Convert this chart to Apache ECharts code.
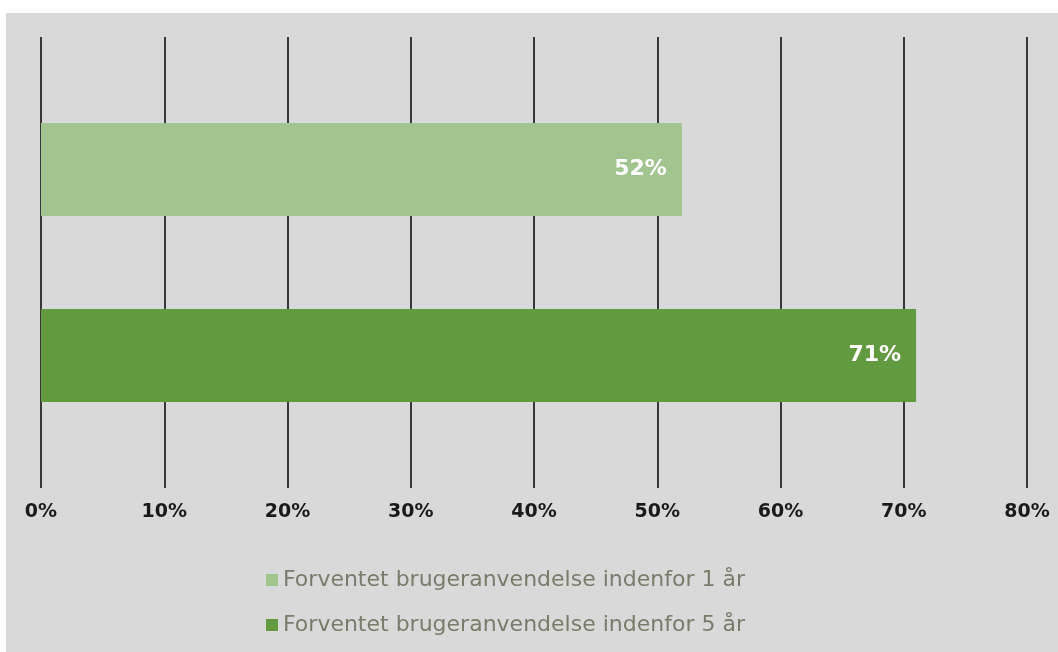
<!DOCTYPE html>
<html>
<head>
<meta charset="utf-8">
<script src="https://cdn.jsdelivr.net/npm/echarts@6/dist/echarts.min.js"></script>
<style>
  html, body { margin: 0; padding: 0; background: #ffffff; }
  #main { position: absolute; left: 6px; top: 13px; width: 1052px; height: 639px; }
</style>
</head>
<body>
<div id="main"></div>
<script>
// one category, two series (Excel style clustered bar)
const categories = [''];
const seriesNames = [
  'Forventet brugeranvendelse indenfor 1 år',
  'Forventet brugeranvendelse indenfor 5 år'
];
const seriesValues = [52, 71];
const seriesColors = ['#a2c58f', '#629a3f'];
const xTicks = { min: 0, max: 80, step: 10 };

const fontName = 'DejaVu Sans';
const chart = echarts.init(document.getElementById('main'), null, { renderer: 'canvas' });

function getOption() {
  return {
    backgroundColor: '#d9d9d9',
    animation: false,
    textStyle: { fontFamily: fontName },
    grid: { left: 35, right: 31, top: 24, bottom: 164, containLabel: false },
    legend: {
      orient: 'vertical',
      left: 255,
      top: 550,
      itemWidth: 12,
      itemHeight: 12,
      itemGap: 21,
      icon: 'rect',
      textStyle: { color: '#7b7b6c', fontSize: 22, lineHeight: 24, fontFamily: fontName },
      data: seriesNames
    },
    xAxis: {
      type: 'value',
      min: xTicks.min,
      max: xTicks.max,
      interval: xTicks.step,
      axisLine: { show: false },
      axisTick: { show: false },
      splitLine: { show: true, lineStyle: { color: '#000000', width: 1.5 } },
      axisLabel: {
        formatter: '{value}%',
        color: '#1a1a1a',
        fontWeight: 'bold',
        fontSize: 19,
        fontFamily: fontName,
        margin: 15
      }
    },
    yAxis: {
      type: 'category',
      inverse: true,
      data: categories,
      axisLine: { show: false },
      axisTick: { show: false },
      axisLabel: { show: false },
      splitLine: { show: false }
    },
    series: seriesNames.map(function (name, i) {
      return {
        name: name,
        type: 'bar',
        barWidth: 93,
        barGap: '100%',
        itemStyle: { color: seriesColors[i] },
        label: {
          show: true,
          position: 'insideRight',
          distance: 15,
          formatter: '{c}%',
          color: '#ffffff',
          fontWeight: 'bold',
          fontSize: 22,
          fontFamily: fontName
        },
        data: [seriesValues[i]]
      };
    })
  };
}

chart.setOption(getOption());
</script>
</body>
</html>
